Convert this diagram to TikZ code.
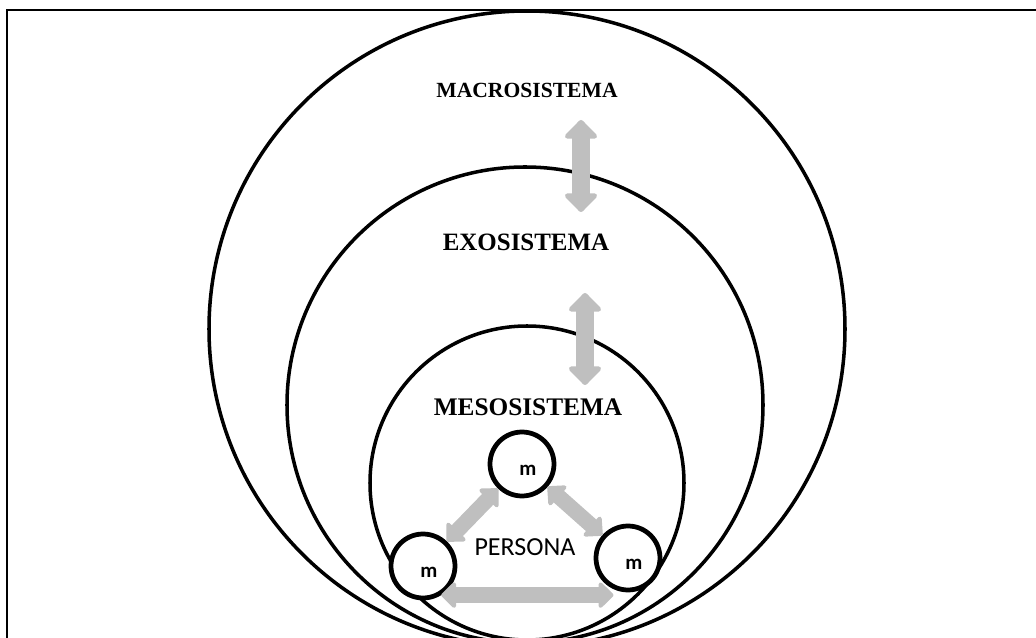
\documentclass[tikz,border=0pt]{standalone}
\usepackage{fontspec}
\setmainfont{Liberation Serif}
\newfontfamily\calibfont{Carlito}
\usetikzlibrary{arrows.meta}
\definecolor{arrgray}{HTML}{BFBFBF}
\tikzset{
  ring/.style={draw=black,line width=2pt},
  ttl/.style={font=\fontsize{#1}{#1}\selectfont\bfseries},
  msys/.style={circle,draw=black,fill=white,line width=2.7pt,minimum size=1.28cm,inner sep=0pt},
  mtxt/.style={font=\calibfont\bfseries\fontsize{11.9}{12}\selectfont,xshift=0.12cm,yshift=-0.12cm},
  bigarr/.style={arrgray,line width=10.8pt,{Triangle[width=21.5pt,length=11.3pt,round]}-{Triangle[width=21.5pt,length=11.3pt,round]}},
  smarr/.style={arrgray,line width=8.8pt,{Triangle[width=17pt,length=9pt,round]}-{Triangle[width=17pt,length=9pt,round]}}
}

\begin{document}
\begin{tikzpicture}[x=0.02cm,y=-0.02cm]
\clip (0,0) rectangle (1036,638);
\draw[line width=1.2pt] (7,10) rectangle (1050,660);
% nested systems
\foreach \cx/\cy/\r in {527/329/318,525/405/238,527/483/157}
  \draw[ring] (\cx,\cy) circle (\r);
\node[ttl=12.3] (macro) at (527,90) {MACROSISTEMA};
\node[ttl=14.2] (exo) at (526,242) {EXOSISTEMA};
\node[ttl=14.4] (meso) at (528,407) {MESOSISTEMA};
\coordinate (up1) at (581,120); \coordinate (dn1) at (581,212);
\coordinate (up2) at (585,293); \coordinate (dn2) at (585,385);
\draw[bigarr] (up1) -- (dn1);
\draw[bigarr] (up2) -- (dn2);
% microsystems
\node[msys,label={[mtxt]center:m}] (mt) at (522,464) {};
\node[msys,label={[mtxt]center:m}] (ml) at (423,566) {};
\node[msys,label={[mtxt]center:m}] (mr) at (628,558) {};
\node[font=\calibfont\fontsize{14.8}{15}\selectfont] (persona) at (525,547) {PERSONA};
\draw[smarr] (mt) -- (ml);
\draw[smarr] (mt) -- (mr);
\draw[smarr] (ml.-58) -- (ml.-58 -| mr.-115);
\end{tikzpicture}
\end{document}
